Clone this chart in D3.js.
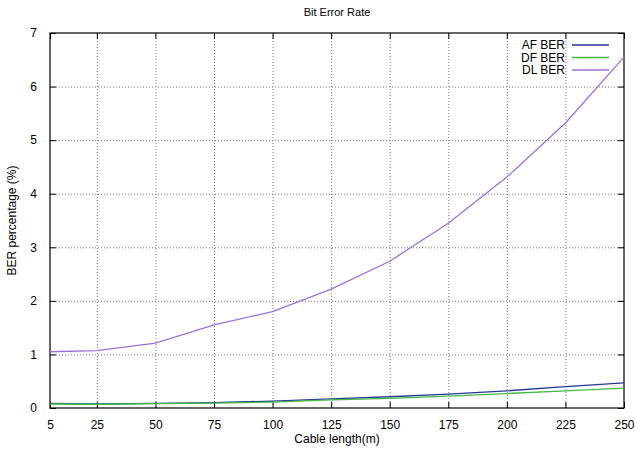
<!DOCTYPE html>
<html>
<head>
  <meta charset="utf-8">
  <title>Bit Error Rate</title>
  <style type="text/css">
    body { margin: 0; background: #fff; }
    svg { display: block; font-family: "Liberation Sans", Arial, sans-serif; }
    .axis text { font-size: 12px; fill: #000; }
    .axis .domain { display: none; }
    .axis .tick line { stroke: #000; stroke-width: 1px; }
    .grid line { stroke: #777; stroke-width: 1px; stroke-dasharray: 1, 2; }
    .grid .domain { display: none; }
  </style>
  <script src="https://cdn.jsdelivr.net/npm/d3@7"></script>
</head>
<body>
  <script>
    var lengths = [5, 25, 50, 75, 100, 125, 150, 175, 200, 225, 250];
    var afBer = [0.085, 0.075, 0.085, 0.10, 0.13, 0.17, 0.21, 0.26, 0.32, 0.40, 0.47];
    var dfBer = [0.075, 0.07, 0.08, 0.09, 0.11, 0.15, 0.18, 0.22, 0.27, 0.32, 0.37];
    var dlBer = [1.05, 1.07, 1.21, 1.55, 1.80, 2.22, 2.74, 3.45, 4.31, 5.32, 6.55];
    var xTicks = [5, 25, 50, 75, 100, 125, 150, 175, 200, 225, 250];
    var yTicks = [0, 1, 2, 3, 4, 5, 6, 7];

    var series = [
      { name: 'AF BER', values: afBer, color: '#24399a' },
      { name: 'DF BER', values: dfBer, color: '#44b944' },
      { name: 'DL BER', values: dlBer, color: '#a070d8' }
    ];

    var W = 635, H = 449,
      m = { left: 50, right: 11, top: 33, bottom: 41 };
    var iw = W - m.left - m.right, ih = H - m.top - m.bottom;

    var x = d3.scaleLinear().domain([5, 250]).range([0, iw]);
    var y = d3.scaleLinear().domain([0, 7]).range([ih, 0]);

    var svg = d3.select('body').append('svg')
      .attr('width', W).attr('height', H);
    var g = svg.append('g').attr('transform', `translate(${m.left},${m.top})`);

    // grid
    g.append('g').classed('grid', true)
      .attr('transform', `translate(0,${ih})`)
      .call(d3.axisBottom(x).tickValues(xTicks.slice(1, -1)).tickSize(-ih).tickFormat(''));
    g.append('g').classed('grid', true)
      .call(d3.axisLeft(y).tickValues(yTicks.slice(1, -1)).tickSize(-iw).tickFormat(''));

    // axes with inward ticks
    g.append('g').classed('axis', true)
      .attr('transform', `translate(0,${ih})`)
      .call(d3.axisBottom(x).tickValues(xTicks).tickFormat(d3.format('d'))
        .tickSizeInner(-6).tickSizeOuter(0).tickPadding(12));
    g.append('g').classed('axis', true)
      .call(d3.axisTop(x).tickValues(xTicks).tickSizeInner(-6).tickSizeOuter(0).tickFormat(''));
    g.append('g').classed('axis', true)
      .call(d3.axisLeft(y).tickValues(yTicks).tickFormat(d3.format('d'))
        .tickSizeInner(-6).tickSizeOuter(0).tickPadding(13));
    g.append('g').classed('axis', true)
      .attr('transform', `translate(${iw},0)`)
      .call(d3.axisRight(y).tickValues(yTicks).tickSizeInner(-6).tickSizeOuter(0).tickFormat(''));

    g.append('rect')
      .attr('width', iw).attr('height', ih)
      .attr('fill', 'none').attr('stroke', '#000').attr('stroke-width', 1.2);

    var line = d3.line()
      .x((d, i) => x(lengths[i]))
      .y(d => y(d));

    series.forEach(function (s) {
      g.append('path')
        .attr('d', line(s.values))
        .attr('fill', 'none')
        .attr('stroke', s.color)
        .attr('stroke-width', 1.3);
    });

    // legend
    var lg = g.append('g').attr('transform', `translate(${iw - 59},12)`);
    series.forEach(function (s, i) {
      var row = lg.append('g').attr('transform', `translate(0,${i * 12.5})`);
      row.append('text')
        .attr('text-anchor', 'end')
        .attr('dy', '0.35em')
        .style('font-size', '12px')
        .text(s.name);
      row.append('line')
        .attr('x1', 7).attr('x2', 44)
        .attr('stroke', s.color).attr('stroke-width', 1.3);
    });

    svg.append('text')
      .attr('x', m.left + iw / 2).attr('y', 16)
      .attr('text-anchor', 'middle')
      .style('font-size', '11px')
      .text('Bit Error Rate');

    svg.append('text')
      .attr('x', m.left + iw / 2).attr('y', 443)
      .attr('text-anchor', 'middle')
      .style('font-size', '12px')
      .text('Cable length(m)');

    svg.append('text')
      .attr('transform', `translate(16,${m.top + ih / 2}) rotate(-90)`)
      .attr('text-anchor', 'middle')
      .style('font-size', '12px')
      .text('BER percentage (%)');
  </script>
</body>
</html>
